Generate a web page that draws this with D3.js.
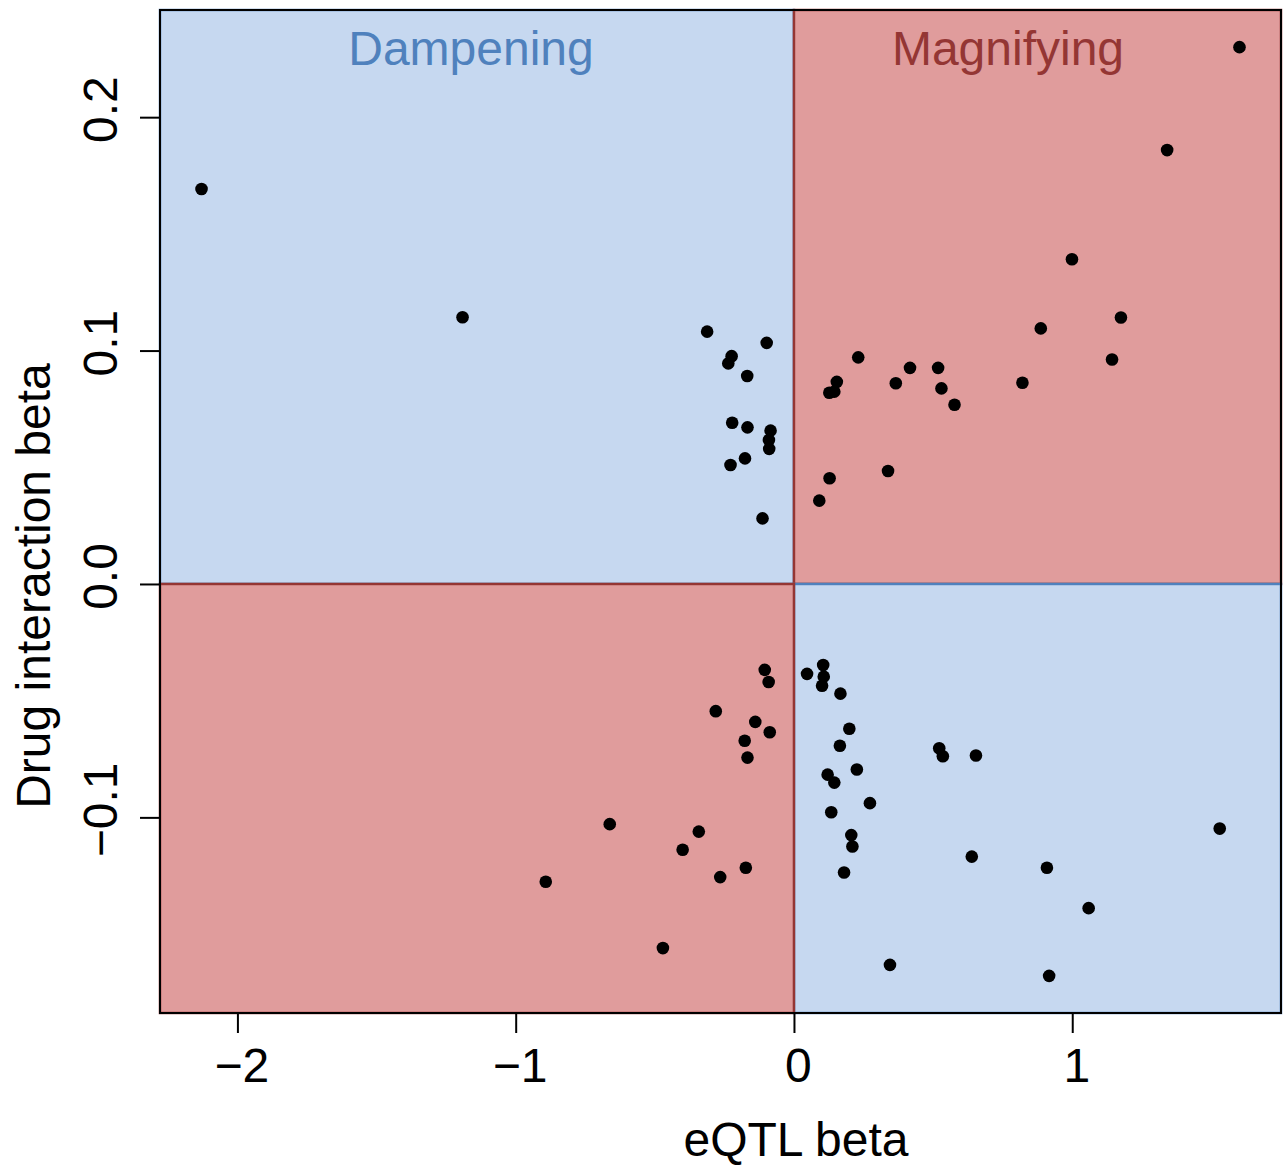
<!DOCTYPE html>
<html lang="en">
<head>
  <meta charset="UTF-8">
  <title>eQTL beta vs drug interaction beta</title>
  <script src="https://d3js.org/d3.v7.min.js"></script>
  <style>
    body { margin: 0; padding: 0; background: #fff; }
    text { font-family: "Liberation Sans", Arial, Helvetica, sans-serif; }
  </style>
</head>
<body>
<script>
  // values
  const eqtlBeta = [
    -2.129, -1.191, -0.312, -0.098, -0.224, -0.236, -0.168, -0.222, -0.167, -0.084,
    -0.090, -0.089, -0.176, -0.228, -0.113,
    0.999, 1.175, 0.887, 1.143, 0.821, 0.231, 0.417, 0.518, 0.154, 0.366,
    0.530, 0.127, 0.145, 0.577, 1.341, 1.601, 0.338, 0.128, 0.091,
    -0.105, -0.091, -0.281, -0.139, -0.087, -0.177, -0.167, -0.342, -0.400, -0.173,
    -0.265, -0.662, -0.892, -0.471,
    0.105, 0.047, 0.107, 0.101, 0.167, 0.199, 0.165, 0.226, 0.121, 0.145,
    0.273, 0.134, 0.206, 0.210, 0.180, 0.522, 0.535, 0.654, 1.530, 0.639,
    0.909, 1.059, 0.917, 0.345
  ]
  const drugBeta = [
    0.1692, 0.1143, 0.1081, 0.1033, 0.0976, 0.0945, 0.0891, 0.0691, 0.0671, 0.0657,
    0.0617, 0.0579, 0.0538, 0.0510, 0.0281,
    0.1391, 0.1142, 0.1095, 0.0962, 0.0862, 0.0971, 0.0926, 0.0926, 0.0866, 0.0860,
    0.0838, 0.0819, 0.0824, 0.0768, 0.1859, 0.2300, 0.0484, 0.0453, 0.0357,
    -0.0368, -0.0420, -0.0545, -0.0591, -0.0635, -0.0672, -0.0744, -0.1061, -0.1139, -0.1216,
    -0.1256, -0.1029, -0.1276, -0.1560,
    -0.0347, -0.0385, -0.0397, -0.0436, -0.0470, -0.0620, -0.0693, -0.0795, -0.0817, -0.0851,
    -0.0939, -0.0978, -0.1076, -0.1125, -0.1236, -0.0704, -0.0738, -0.0735, -0.1048, -0.1168,
    -0.1216, -0.1389, -0.1679, -0.1632
  ]
  const xTicks = [-2, -1, 0, 1]
  const yTicks = [-0.1, 0.0, 0.1, 0.2]
  const zoneNames = ["Dampening", "Magnifying"]
  const xTitle = "eQTL beta"
  const yTitle = "Drug interaction beta"

  const width = 1283
  const height = 1165
  const plotL = 160, plotR = 1281, plotT = 10, plotB = 1013

  const blueFill = "#c6d8f0", blueLine = "#4f81bd"
  const redFill = "#e09c9c", redLine = "#943634"

  // R style axis range: data extent padded by 4%
  function padded(vals) {
    let [a, b] = d3.extent(vals)
    let p = (b - a) * 0.04
    return [a - p, b + p]
  }
  let [x0, x1] = padded(eqtlBeta)
  let [y0, y1] = padded(drugBeta)

  let x = d3.scaleLinear().domain([x0, x1]).range([plotL, plotR])
  let y = d3.scaleLinear().domain([y0, y1]).range([plotB, plotT])

  let svg = d3.select("body")
    .append("svg")
    .attr("width", width)
    .attr("height", height)

  // quadrants, drawn in this order so the shared borders look like the original
  let quads = [
    { xa: x0, xb: 0, ya: 0, yb: y1, fill: blueFill, line: blueLine },
    { xa: 0, xb: x1, ya: 0, yb: y1, fill: redFill, line: redLine },
    { xa: 0, xb: x1, ya: y0, yb: 0, fill: blueFill, line: blueLine },
    { xa: x0, xb: 0, ya: y0, yb: 0, fill: redFill, line: redLine }
  ]
  svg.selectAll("rect.quad")
    .data(quads)
    .join("rect")
    .attr("class", "quad")
    .attr("x", d => x(d.xa))
    .attr("y", d => y(d.yb))
    .attr("width", d => x(d.xb) - x(d.xa))
    .attr("height", d => y(d.ya) - y(d.yb))
    .attr("fill", d => d.fill)
    .attr("stroke", d => d.line)
    .attr("stroke-width", 2.5)

  // zone labels
  svg.append("text")
    .attr("x", 471)
    .attr("y", 65)
    .attr("text-anchor", "middle")
    .attr("font-size", 48)
    .attr("fill", blueLine)
    .text(zoneNames[0])
  svg.append("text")
    .attr("x", 1008)
    .attr("y", 65)
    .attr("text-anchor", "middle")
    .attr("font-size", 48)
    .attr("fill", redLine)
    .text(zoneNames[1])

  // points
  svg.append("g")
    .selectAll("circle")
    .data(eqtlBeta.map((v, i) => [v, drugBeta[i]]))
    .join("circle")
    .attr("cx", d => x(d[0]))
    .attr("cy", d => y(d[1]))
    .attr("r", 6.3)
    .attr("fill", "black")

  // box
  svg.append("rect")
    .attr("x", plotL)
    .attr("y", plotT)
    .attr("width", plotR - plotL)
    .attr("height", plotB - plotT)
    .attr("fill", "none")
    .attr("stroke", "black")
    .attr("stroke-width", 2)

  // x axis
  let xAxis = svg.append("g")
    .attr("transform", `translate(0,${plotB})`)
    .call(d3.axisBottom(x).tickValues(xTicks).tickSize(20).tickFormat(d3.format("d")))
  xAxis.select(".domain").remove()
  xAxis.selectAll(".tick line").attr("stroke", "black").attr("stroke-width", 2)
  xAxis.selectAll(".tick text")
    .attr("y", 69)
    .attr("dy", 0)
    .attr("dx", 4)
    .attr("font-size", 48)
    .attr("font-family", "Liberation Sans, Arial, sans-serif")
    .attr("fill", "black")

  // y axis
  let yAxis = svg.append("g")
    .attr("transform", `translate(${plotL},0)`)
    .call(d3.axisLeft(y).tickValues(yTicks).tickSize(20).tickFormat(d3.format(".1f")))
  yAxis.select(".domain").remove()
  yAxis.selectAll(".tick line").attr("stroke", "black").attr("stroke-width", 2)
  yAxis.selectAll(".tick text")
    .attr("x", 0)
    .attr("dy", 0)
    .attr("text-anchor", "middle")
    .attr("transform", "translate(-43,0) rotate(-90)")
    .attr("dx", 8)
    .attr("font-size", 48)
    .attr("font-family", "Liberation Sans, Arial, sans-serif")
    .attr("fill", "black")

  // axis titles
  svg.append("text")
    .attr("x", 796)
    .attr("y", 1156)
    .attr("text-anchor", "middle")
    .attr("font-size", 48)
    .text(xTitle)
  svg.append("text")
    .attr("transform", "translate(50,586) rotate(-90)")
    .attr("text-anchor", "middle")
    .attr("font-size", 48)
    .text(yTitle)
</script>
</body>
</html>
